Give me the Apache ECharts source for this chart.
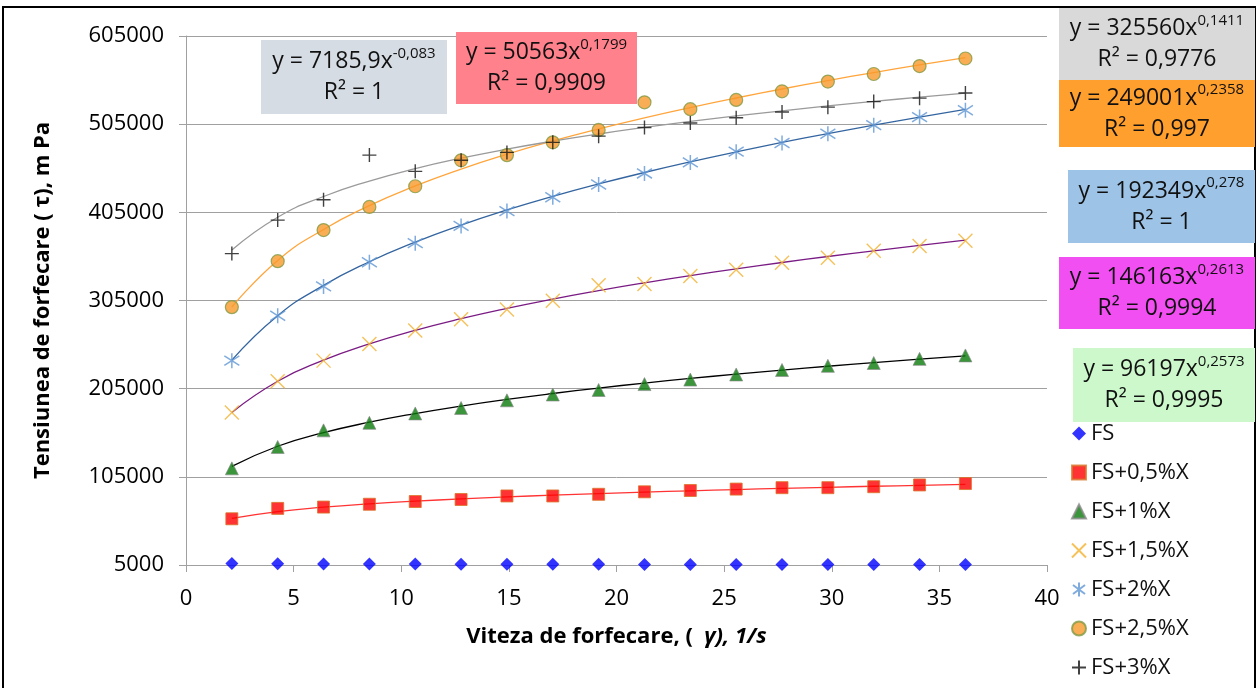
<!DOCTYPE html>
<html><head><meta charset="utf-8">
<script src="https://cdn.jsdelivr.net/npm/echarts@6/dist/echarts.min.js"></script>
<style>html,body{margin:0;padding:0;background:#fff}#c{width:1256px;height:688px}</style>
</head><body><div id="c"></div>
<script>
// ---- data ----
const shearRate = [2.13, 4.26, 6.39, 8.52, 10.65, 12.78, 14.91, 17.04, 19.17, 21.3, 23.43, 25.56, 27.69, 29.82, 31.95, 34.08, 36.21];
const seriesNames = ['FS', 'FS+0,5%X', 'FS+1%X', 'FS+1,5%X', 'FS+2%X', 'FS+2,5%X', 'FS+3%X'];
const fs   = [6700, 6450, 6250, 6150, 6050, 5950, 5900, 5800, 5750, 5700, 5650, 5650, 5600, 5550, 5500, 5500, 5450];
const fs05 = [57400, 69200, 70700, 73900, 77000, 79300, 83300, 83300, 85200, 88000, 89500, 91100, 92700, 92700, 93800, 95800, 97400];
const fs1  = [114600, 138900, 157700, 166300, 176900, 183100, 191800, 198400, 203500, 210200, 215300, 221100, 226200, 230900, 234100, 238800, 242700];
const fs15 = [178100, 213300, 236800, 255600, 270900, 283800, 294800, 304600, 322200, 323800, 332800, 339800, 347700, 353500, 361400, 366800, 372700];
const fs2  = [236800, 287700, 321000, 348400, 370000, 389600, 406400, 422100, 436600, 449100, 461600, 473800, 483600, 494100, 503900, 513000, 520800];
const fs25 = [297500, 349600, 384900, 411100, 434600, 464000, 469900, 484400, 498500, 529800, 522000, 532500, 542300, 553300, 561900, 570900, 579500];
const fs3  = [358200, 396200, 419300, 469900, 451500, 464000, 473000, 484400, 491400, 501200, 506300, 512200, 518800, 524300, 530600, 534500, 540400];
const allValues = [fs, fs05, fs1, fs15, fs2, fs25, fs3];
// power-law trendlines printed on the chart: y = a * x^b
const fitA = [7185.9, 50563, 96197, 146163, 192349, 249001, 325560];
const fitB = [-0.083, 0.1799, 0.2573, 0.2613, 0.278, 0.2358, 0.1411];
const fitCoefText = ['7185,9', '50563', '96197', '146163', '192349', '249001', '325560'];
const fitExpText  = ['-0,083', '0,1799', '0,2573', '0,2613', '0,278', '0,2358', '0,1411'];
const fitR2Text   = ['1', '0,9909', '0,9995', '0,9994', '1', '0,997', '0,9776'];
const yTicks = [5000, 105000, 205000, 305000, 405000, 505000, 605000];
const xTitle = 'Viteza de forfecare, (  {i|γ), 1/s}';
const yTitle = 'Tensiunea de forfecare ( τ), m Pa';

// ---- styles ----
const FONT = 'Open Sans';
const markerStyles = [
  {symbol: 'diamond', symbolSize: 13, itemStyle: {color: '#0000ff'}},
  {symbol: 'rect', symbolSize: 12, itemStyle: {color: '#ff0000', borderColor: '#d9772b', borderWidth: 1}},
  {symbol: 'triangle', symbolSize: 13, itemStyle: {color: '#0a7a0a', borderColor: '#8a8a8a', borderWidth: 0.8}},
  {symbol: 'path://M0,0 L10,10 M10,0 L0,10', symbolSize: 14, itemStyle: {color: 'rgba(0,0,0,0)', borderColor: '#f2b230', borderWidth: 1.4}},
  {symbol: 'path://M5,0 L5,10 M0.7,1.8 L9.3,8.2 M9.3,1.8 L0.7,8.2', symbolSize: 15, itemStyle: {color: 'rgba(0,0,0,0)', borderColor: '#5f96d4', borderWidth: 1.5}},
  {symbol: 'circle', symbolSize: 13, itemStyle: {color: '#f8992a', borderColor: '#7f9a45', borderWidth: 1.2}},
  {symbol: 'path://M5,0 L5,10 M0,5 L10,5', symbolSize: 14, itemStyle: {color: 'rgba(0,0,0,0)', borderColor: '#111111', borderWidth: 1.4}}
];
const trendColors = [null, '#ff3333', '#000000', '#7a1b84', '#3465a0', '#ffa53c', '#9a9a9a'];
const boxes = [
  {x: 261, y: 40, w: 186, h: 74, fill: '#d6dce4'},
  {x: 456, y: 32, w: 181, h: 72, fill: '#ff818c'},
  {x: 1073, y: 348, w: 182, h: 74, fill: '#ccf8cc'},
  {x: 1059, y: 257, w: 196, h: 72, fill: '#f24ff2'},
  {x: 1068, y: 170, w: 187, h: 73, fill: '#9dc3e6'},
  {x: 1059, y: 80, w: 196, h: 67, fill: '#ff9f2e'},
  {x: 1059, y: 8, w: 196, h: 72, fill: '#d9d9d9'}
];

const series = [];
allValues.forEach((vals, i) => {
  if (trendColors[i]) {
    series.push({
      name: 'trend ' + seriesNames[i], type: 'line', smooth: true, showSymbol: false, silent: true, z: 2,
      lineStyle: {color: trendColors[i], width: 1.3},
      data: shearRate.map(x => [x, fitA[i] * Math.pow(x, fitB[i])])
    });
  }
});
allValues.forEach((vals, i) => {
  series.push(Object.assign({
    name: seriesNames[i], type: 'scatter', z: 5,
    data: shearRate.map((x, k) => [x, vals[k]])
  }, markerStyles[i]));
});

const graphics = [{
  type: 'rect', z: 0, shape: {x: 3, y: 7, width: 1252, height: 700},
  style: {fill: 'none', stroke: '#000', lineWidth: 2}
}];
boxes.forEach((b, i) => {
  graphics.push({type: 'rect', z: 10, shape: {x: b.x, y: b.y, width: b.w, height: b.h}, style: {fill: b.fill}});
  graphics.push({
    type: 'text', z: 11, x: b.x + b.w / 2, y: b.y + b.h / 2,
    style: {
      text: 'y = ' + fitCoefText[i] + 'x{s|' + fitExpText[i] + '}\nR² = ' + fitR2Text[i],
      fontFamily: FONT, fontSize: 23, lineHeight: 31, fill: '#111', align: 'center', verticalAlign: 'middle',
      rich: {s: {fontFamily: FONT, fontSize: 15, lineHeight: 18, verticalAlign: 'top', fill: '#111'}}
    }
  });
});

const chart = echarts.init(document.getElementById('c'), null, {renderer: 'canvas'});
chart.setOption({
  animation: false,
  backgroundColor: '#fff',
  grid: {left: 186, right: 209, top: 36, bottom: 123, containLabel: false},
  xAxis: {
    type: 'value', min: 0, max: 40, interval: 5,
    name: xTitle, nameLocation: 'middle', nameGap: 61,
    nameTextStyle: {fontFamily: FONT, fontSize: 22, fontWeight: 'bold', color: '#000',
      rich: {i: {fontFamily: FONT, fontSize: 22, fontWeight: 'bold', fontStyle: 'italic', color: '#000'}}},
    axisLine: {show: true, lineStyle: {color: '#a0a0a0', width: 1}},
    axisTick: {show: true, length: 7, lineStyle: {color: '#a0a0a0'}},
    axisLabel: {fontFamily: FONT, fontSize: 22, color: '#000', margin: 23},
    splitLine: {show: false}
  },
  yAxis: {
    type: 'value', min: 5000, max: 605000,
    name: yTitle, nameLocation: 'middle', nameGap: 132, nameRotate: 90,
    nameTextStyle: {fontFamily: FONT, fontSize: 22, fontWeight: 'bold', color: '#000'},
    axisLine: {show: true, lineStyle: {color: '#a0a0a0', width: 1}},
    axisTick: {show: true, length: 7, lineStyle: {color: '#a0a0a0'}, customValues: yTicks},
    axisLabel: {fontFamily: FONT, fontSize: 22, color: '#000', margin: 22, customValues: yTicks,
      formatter: v => String(v)},
    splitLine: {show: true, lineStyle: {color: '#a0a0a0', width: 1}}
  },
  legend: {
    orient: 'vertical', left: 1066, top: 416, itemWidth: 14, itemHeight: 14, itemGap: 14,
    data: seriesNames,
    textStyle: {fontFamily: FONT, fontSize: 22, color: '#111', lineHeight: 25}
  },
  graphic: graphics,
  series: series
});
</script></body></html>
